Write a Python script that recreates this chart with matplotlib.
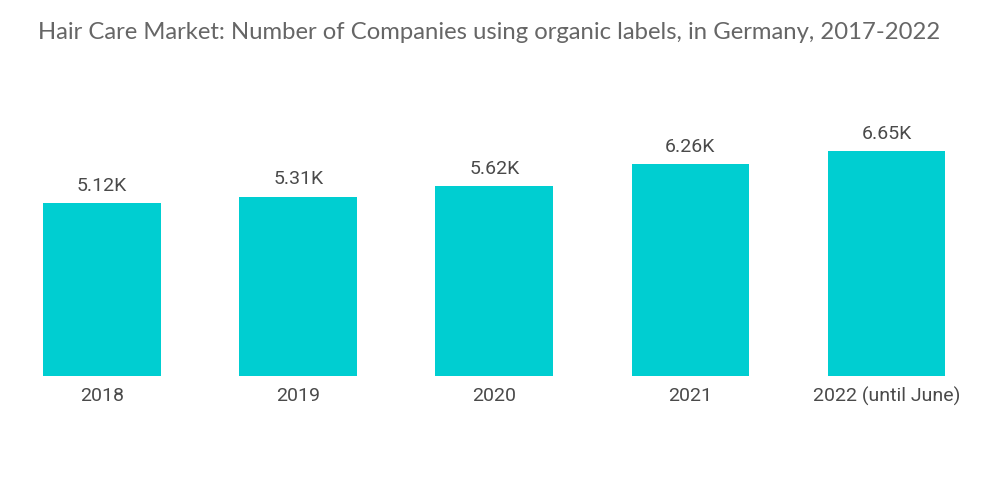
import matplotlib.pyplot as plt

# Data
years = ['2018', '2019', '2020', '2021', '2022 (until June)']
companies = [5.12, 5.31, 5.62, 6.26, 6.65]  # thousands
labels = ['5.12K', '5.31K', '5.62K', '6.26K', '6.65K']

plt.rcParams['font.family'] = ['Roboto', 'DejaVu Sans']

fig = plt.figure(figsize=(10, 5.04), dpi=100)
ax = fig.add_axes([0.004, 0.254, 0.9805, 0.5476])

x = range(len(years))
bars = ax.bar(x, companies, width=0.6, color='#00CED1')

for xi, v, lab in zip(x, companies, labels):
    ax.annotate(lab, (xi, v), xytext=(0, 6), textcoords='offset points',
                ha='center', va='bottom', fontsize=14, color='#4a4a4a')

ax.set_xlim(-0.5, len(years) - 0.5)
ax.set_ylim(0, 8.166)
ax.set_xticks(list(x))
ax.set_xticklabels(years, fontsize=14, color='#4a4a4a')
ax.tick_params(axis='x', length=0, pad=8)
ax.set_yticks([])
for s in ['top', 'right', 'left', 'bottom']:
    ax.spines[s].set_visible(False)

fig.text(0.038, 0.935, 'Hair Care Market: Number of Companies using organic labels, in Germany, 2017-2022',
         fontsize=17.2, color='#666666', family=['Lato', 'DejaVu Sans'], va='center', ha='left')

fig.savefig('out.png', dpi=100)
